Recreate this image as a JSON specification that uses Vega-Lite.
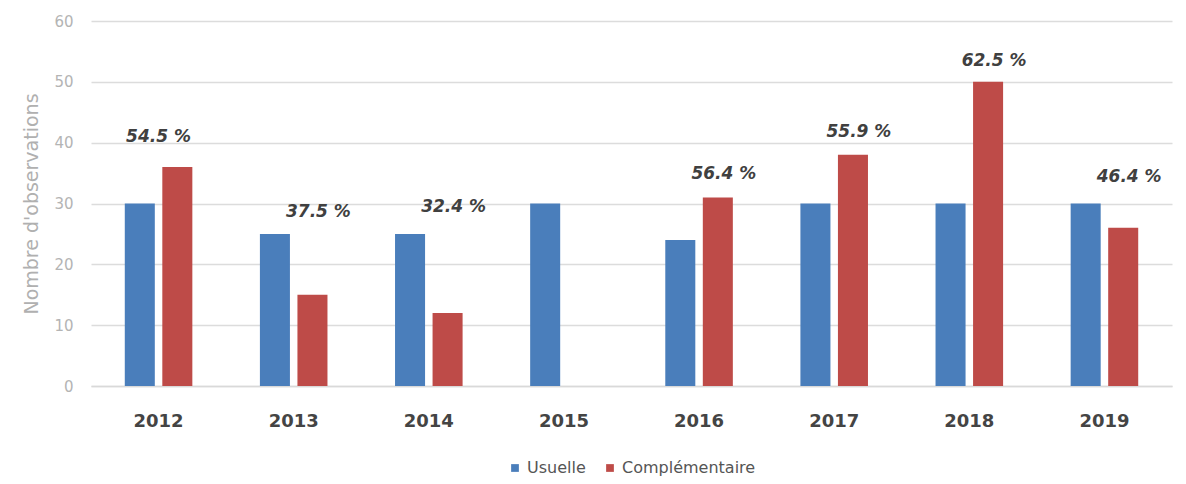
{
  "$schema": "https://vega.github.io/schema/vega-lite/v6.json",
  "width": 1186,
  "height": 484,
  "autosize": {"type": "fit", "contains": "padding"},
  "padding": {"left": 22, "right": 14, "top": 14, "bottom": 8},
  "background": "white",
  "config": {
    "font": "DejaVu Sans",
    "view": {"stroke": null},
    "legend": {"layout": {"bottom": {"anchor": "middle"}}}
  },
  "datasets": {
    "bars": [
      {"year": "2012", "serie": "Usuelle", "n": 30},
      {"year": "2012", "serie": "Complémentaire", "n": 36},
      {"year": "2013", "serie": "Usuelle", "n": 25},
      {"year": "2013", "serie": "Complémentaire", "n": 15},
      {"year": "2014", "serie": "Usuelle", "n": 25},
      {"year": "2014", "serie": "Complémentaire", "n": 12},
      {"year": "2015", "serie": "Usuelle", "n": 30},
      {"year": "2015", "serie": "Complémentaire", "n": 0},
      {"year": "2016", "serie": "Usuelle", "n": 24},
      {"year": "2016", "serie": "Complémentaire", "n": 31},
      {"year": "2017", "serie": "Usuelle", "n": 30},
      {"year": "2017", "serie": "Complémentaire", "n": 38},
      {"year": "2018", "serie": "Usuelle", "n": 30},
      {"year": "2018", "serie": "Complémentaire", "n": 50},
      {"year": "2019", "serie": "Usuelle", "n": 30},
      {"year": "2019", "serie": "Complémentaire", "n": 26}
    ],
    "labels": [
      {"year": "2012", "serie": "Complémentaire", "label": "54.5 %", "at": 40.9},
      {"year": "2013", "serie": "Complémentaire", "label": "37.5 %", "at": 28.6},
      {"year": "2014", "serie": "Complémentaire", "label": "32.4 %", "at": 29.5},
      {"year": "2016", "serie": "Complémentaire", "label": "56.4 %", "at": 34.8},
      {"year": "2017", "serie": "Complémentaire", "label": "55.9 %", "at": 41.8},
      {"year": "2018", "serie": "Complémentaire", "label": "62.5 %", "at": 53.4},
      {"year": "2019", "serie": "Complémentaire", "label": "46.4 %", "at": 34.4}
    ]
  },
  "layer": [
    {
      "data": {"name": "bars"},
      "mark": {"type": "bar"},
      "encoding": {
        "x": {
          "field": "year",
          "type": "nominal",
          "scale": {"paddingInner": 0.5, "paddingOuter": 0.25},
          "axis": {
            "title": null,
            "labelAngle": 0,
            "labelFont": "DejaVu Sans",
            "labelFontWeight": "bold",
            "labelFontSize": 18,
            "labelColor": "#444444",
            "labelPadding": 26,
            "ticks": false,
            "domainColor": "#d9d9d9",
            "domainWidth": 1.5
          }
        },
        "xOffset": {
          "field": "serie",
          "type": "nominal",
          "scale": {"domain": ["Usuelle", "Complémentaire"], "paddingInner": 0.2}
        },
        "y": {
          "field": "n",
          "type": "quantitative",
          "scale": {"domain": [0, 60]},
          "axis": {
            "title": "Nombre d'observations",
            "titleFont": "DejaVu Sans",
            "titleFontWeight": "normal",
            "titleFontSize": 19,
            "titleColor": "#b0b0b0",
            "titlePadding": 12,
            "values": [0, 10, 20, 30, 40, 50, 60],
            "labelFont": "DejaVu Sans",
            "labelFontSize": 15,
            "labelColor": "#b4b4b4",
            "labelPadding": 18,
            "ticks": false,
            "domain": false,
            "gridColor": "#dcdcdc",
            "gridWidth": 1.5
          }
        },
        "color": {
          "field": "serie",
          "type": "nominal",
          "scale": {"domain": ["Usuelle", "Complémentaire"], "range": ["#4a7ebb", "#be4b48"]},
          "legend": {
            "title": null,
            "orient": "bottom",
            "direction": "horizontal",
            "symbolType": "square",
            "symbolSize": 60,
            "labelFont": "DejaVu Sans",
            "labelFontSize": 16,
            "labelColor": "#555555",
            "columnPadding": 16,
            "offset": 30
          }
        }
      }
    },
    {
      "data": {"name": "labels"},
      "transform": [{"filter": "datum.year == '2012'"}],
      "mark": {"type": "text", "font": "DejaVu Sans", "fontWeight": "bold", "fontStyle": "italic", "fontSize": 17, "color": "#404040"},
      "encoding": {
        "x": {"field": "year", "type": "nominal"},
        "y": {"field": "at", "type": "quantitative"},
        "text": {"field": "label"}
      }
    },
    {
      "data": {"name": "labels"},
      "transform": [{"filter": "datum.year != '2012'"}],
      "mark": {"type": "text", "font": "DejaVu Sans", "fontWeight": "bold", "fontStyle": "italic", "fontSize": 17, "color": "#404040", "dx": 6},
      "encoding": {
        "x": {"field": "year", "type": "nominal"},
        "xOffset": {"field": "serie", "type": "nominal", "scale": {"domain": ["Usuelle", "Complémentaire"]}},
        "y": {"field": "at", "type": "quantitative"},
        "text": {"field": "label"}
      }
    }
  ]
}
